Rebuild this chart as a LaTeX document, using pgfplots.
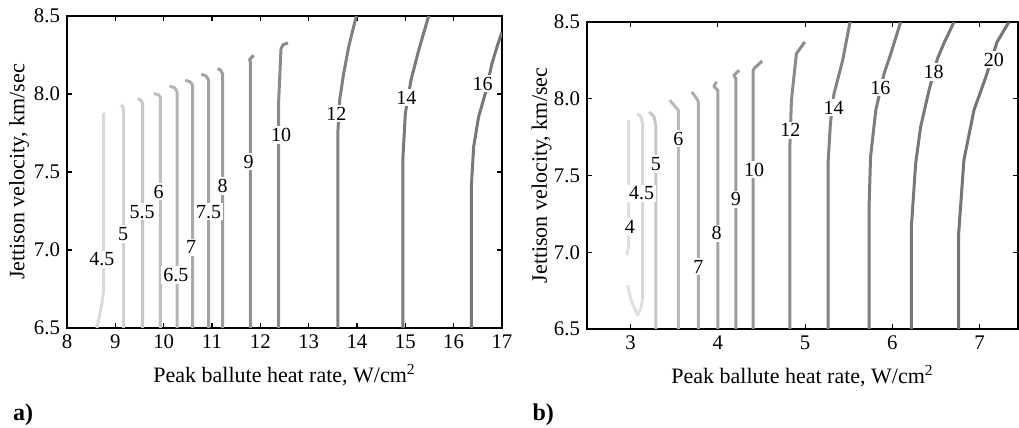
\documentclass[border=0pt]{standalone}
\usepackage{fontspec}
\setmainfont{Liberation Serif}
\usepackage{pgfplots}
\pgfplotsset{compat=1.18}

% contour grays, light (low level) to dark (high level)
\definecolor{a45}{gray}{0.86}
\definecolor{a5}{gray}{0.82}
\definecolor{a55}{gray}{0.78}
\definecolor{a6}{gray}{0.75}
\definecolor{a65}{gray}{0.71}
\definecolor{a7}{gray}{0.67}
\definecolor{a75}{gray}{0.64}
\definecolor{a8}{gray}{0.61}
\definecolor{a9}{gray}{0.57}
\definecolor{a10}{gray}{0.54}
\definecolor{a12}{gray}{0.50}
\definecolor{a14}{gray}{0.48}
\definecolor{a16}{gray}{0.47}
\definecolor{b4}{gray}{0.88}
\definecolor{b45}{gray}{0.84}
\definecolor{b5}{gray}{0.78}
\definecolor{b6}{gray}{0.73}
\definecolor{b7}{gray}{0.68}
\definecolor{b8}{gray}{0.64}
\definecolor{b9}{gray}{0.61}
\definecolor{b10}{gray}{0.58}
\definecolor{b12}{gray}{0.54}
\definecolor{b14}{gray}{0.51}
\definecolor{b16}{gray}{0.49}
\definecolor{b18}{gray}{0.47}
\definecolor{b20}{gray}{0.46}

\pgfplotsset{
  panel/.style={
    scale only axis,
    axis line style={line width=0.8pt},
    tick style={line width=0.6pt, black},
    major tick length=2.5pt,
    tick label style={font=\fontsize{10.4}{12}\selectfont},
    /pgf/number format/assume math mode=true,
    ymin=6.5, ymax=8.5,
    ytick={6.5,7,7.5,8,8.5},
    y tick label style={/pgf/number format/fixed,
      /pgf/number format/fixed zerofill, /pgf/number format/precision=1},
    xlabel={Peak ballute heat rate, W/cm\textsuperscript{2}},
    ylabel={Jettison velocity, km/sec},
    every axis x label/.style={at={(rel axis cs:0.5,0)}, anchor=center,
      yshift=-23.5pt, font=\fontsize{11}{13}\selectfont},
    every axis y label/.style={at={(rel axis cs:0,0.5)}, anchor=center,
      rotate=90, font=\fontsize{11}{13}\selectfont},
  },
  cl/.style={line width=1.5pt, draw=#1, no marks, line join=round},
}
\tikzset{lab/.style={fill=white, inner sep=1pt, text=black, font=\fontsize{10}{12}\selectfont}}

\begin{document}
\begin{tikzpicture}
\useasboundingbox (0pt,0pt) rectangle (509.5pt,214pt);

% ---- panel a ----
\begin{axis}[panel, at={(33.5pt,50pt)}, anchor=south west,
  width=217.5pt, height=156pt,
  xmin=8, xmax=17, xtick={8,...,17},
  ylabel style={yshift=24pt}]
\addplot[cl=a45] coordinates {(8.62,6.5)(8.724,6.66)(8.76,6.745)(8.76,7.88)};
\addplot[cl=a5] coordinates {(9.172,6.5)(9.172,7.897)(9.15,7.92)(9.117,7.929)};
\addplot[cl=a55] coordinates {(9.566,6.5)(9.566,7.939)(9.53,7.96)(9.462,7.971)};
\addplot[cl=a6] coordinates {(9.931,6.5)(9.931,7.982)(9.89,7.995)(9.793,8.003)};
\addplot[cl=a65] coordinates {(10.276,6.5)(10.276,8.014)(10.23,8.04)(10.124,8.05)};
\addplot[cl=a7] coordinates {(10.6,6.5)(10.6,8.056)(10.55,8.078)(10.448,8.088)};
\addplot[cl=a75] coordinates {(10.931,6.5)(10.931,8.088)(10.88,8.115)(10.779,8.127)};
\addplot[cl=a8] coordinates {(11.221,6.5)(11.221,8.127)(11.18,8.152)(11.117,8.163)};
\addplot[cl=a9] coordinates {(11.793,6.5)(11.793,8.206)(11.779,8.221)(11.862,8.248)};
\addplot[cl=a10] coordinates {(12.379,6.5)(12.379,7.95)(12.40,8.1)(12.428,8.29)(12.469,8.315)(12.572,8.328)};
\addplot[cl=a12] coordinates {(13.607,6.5)(13.607,7.769)(13.641,7.96)(13.724,8.131)(13.828,8.302)(13.986,8.5)};
\addplot[cl=a14] coordinates {(14.952,6.5)(14.952,7.598)(15.0,7.875)(15.117,8.088)(15.276,8.28)(15.483,8.5)};
\addplot[cl=a16] coordinates {(16.366,6.5)(16.366,7.406)(16.414,7.662)(16.517,7.854)(16.655,8.003)(16.793,8.195)(16.897,8.302)(17.0,8.398)};
\node[lab] at (axis cs:8.724,6.94) {4.5};
\node[lab] at (axis cs:9.159,7.103) {5};
\node[lab] at (axis cs:9.552,7.246) {5.5};
\node[lab] at (axis cs:9.897,7.374) {6};
\node[lab] at (axis cs:10.255,6.841) {6.5};
\node[lab] at (axis cs:10.566,7.018) {7};
\node[lab] at (axis cs:10.931,7.246) {7.5};
\node[lab] at (axis cs:11.221,7.41) {8};
\node[lab] at (axis cs:11.759,7.566) {9};
\node[lab] at (axis cs:12.428,7.737) {10};
\node[lab] at (axis cs:13.572,7.875) {12};
\node[lab] at (axis cs:15.021,7.975) {14};
\node[lab] at (axis cs:16.6,8.067) {16};
\end{axis}

% ---- panel b ----
\begin{axis}[panel, at={(293.5pt,49.5pt)}, anchor=south west,
  width=215.5pt, height=153.5pt,
  xmin=2.5, xmax=7.44, xtick={3,...,7},
  ylabel style={yshift=22.75pt}]
\addplot[cl=b4] coordinates {(2.977,7.86)(2.977,7.036)(2.955,6.98)};
\addplot[cl=b4] coordinates {(2.966,6.786)(3.004,6.689)(3.08,6.59)(3.118,6.635)(3.138,6.70)};
\addplot[cl=b45] coordinates {(3.138,6.70)(3.138,7.838)(3.118,7.882)(3.08,7.904)};
\addplot[cl=b5] coordinates {(3.29,6.5)(3.29,7.817)(3.27,7.882)(3.213,7.914)};
\addplot[cl=b6] coordinates {(3.546,6.5)(3.546,7.925)(3.45,7.99)};
\addplot[cl=b7] coordinates {(3.776,6.5)(3.776,7.979)(3.76,8.0)(3.70,8.044)};
\addplot[cl=b8] coordinates {(4.0,6.5)(4.0,8.055)(3.954,8.081)(3.985,8.11)};
\addplot[cl=b9] coordinates {(4.206,6.5)(4.206,8.131)(4.183,8.153)(4.244,8.185)};
\addplot[cl=b10] coordinates {(4.405,6.5)(4.405,8.185)(4.42,8.2)(4.508,8.246)};
\addplot[cl=b12] coordinates {(4.824,6.5)(4.824,7.665)(4.843,7.99)(4.9,8.294)(4.996,8.37)};
\addplot[cl=b14] coordinates {(5.263,6.5)(5.263,7.58)(5.29,7.84)(5.33,8.03)(5.43,8.25)(5.515,8.5)};
\addplot[cl=b16] coordinates {(5.733,6.5)(5.733,7.296)(5.75,7.62)(5.81,7.925)(5.905,8.164)(5.98,8.29)(6.095,8.5)};
\addplot[cl=b18] coordinates {(6.218,6.5)(6.218,7.166)(6.267,7.578)(6.324,7.817)(6.42,8.055)(6.516,8.26)(6.59,8.36)(6.706,8.5)};
\addplot[cl=b20] coordinates {(6.76,6.5)(6.76,7.122)(6.82,7.6)(6.935,7.925)(7.07,8.14)(7.20,8.37)(7.336,8.5)};
\node[lab] at (axis cs:2.99,7.166) {4};
\node[lab] at (axis cs:3.126,7.383) {4.5};
\node[lab] at (axis cs:3.29,7.574) {5};
\node[lab] at (axis cs:3.546,7.741) {6};
\node[lab] at (axis cs:3.776,6.906) {7};
\node[lab] at (axis cs:3.985,7.123) {8};
\node[lab] at (axis cs:4.206,7.344) {9};
\node[lab] at (axis cs:4.416,7.539) {10};
\node[lab] at (axis cs:4.832,7.795) {12};
\node[lab] at (axis cs:5.328,7.943) {14};
\node[lab] at (axis cs:5.863,8.073) {16};
\node[lab] at (axis cs:6.473,8.175) {18};
\node[lab] at (axis cs:7.164,8.255) {20};
\end{axis}

\node[font=\bfseries\fontsize{12}{14}\selectfont] at (11.5pt,6.5pt) {a)};
\node[font=\bfseries\fontsize{12}{14}\selectfont] at (271.6pt,6.5pt) {b)};
\end{tikzpicture}
\end{document}
